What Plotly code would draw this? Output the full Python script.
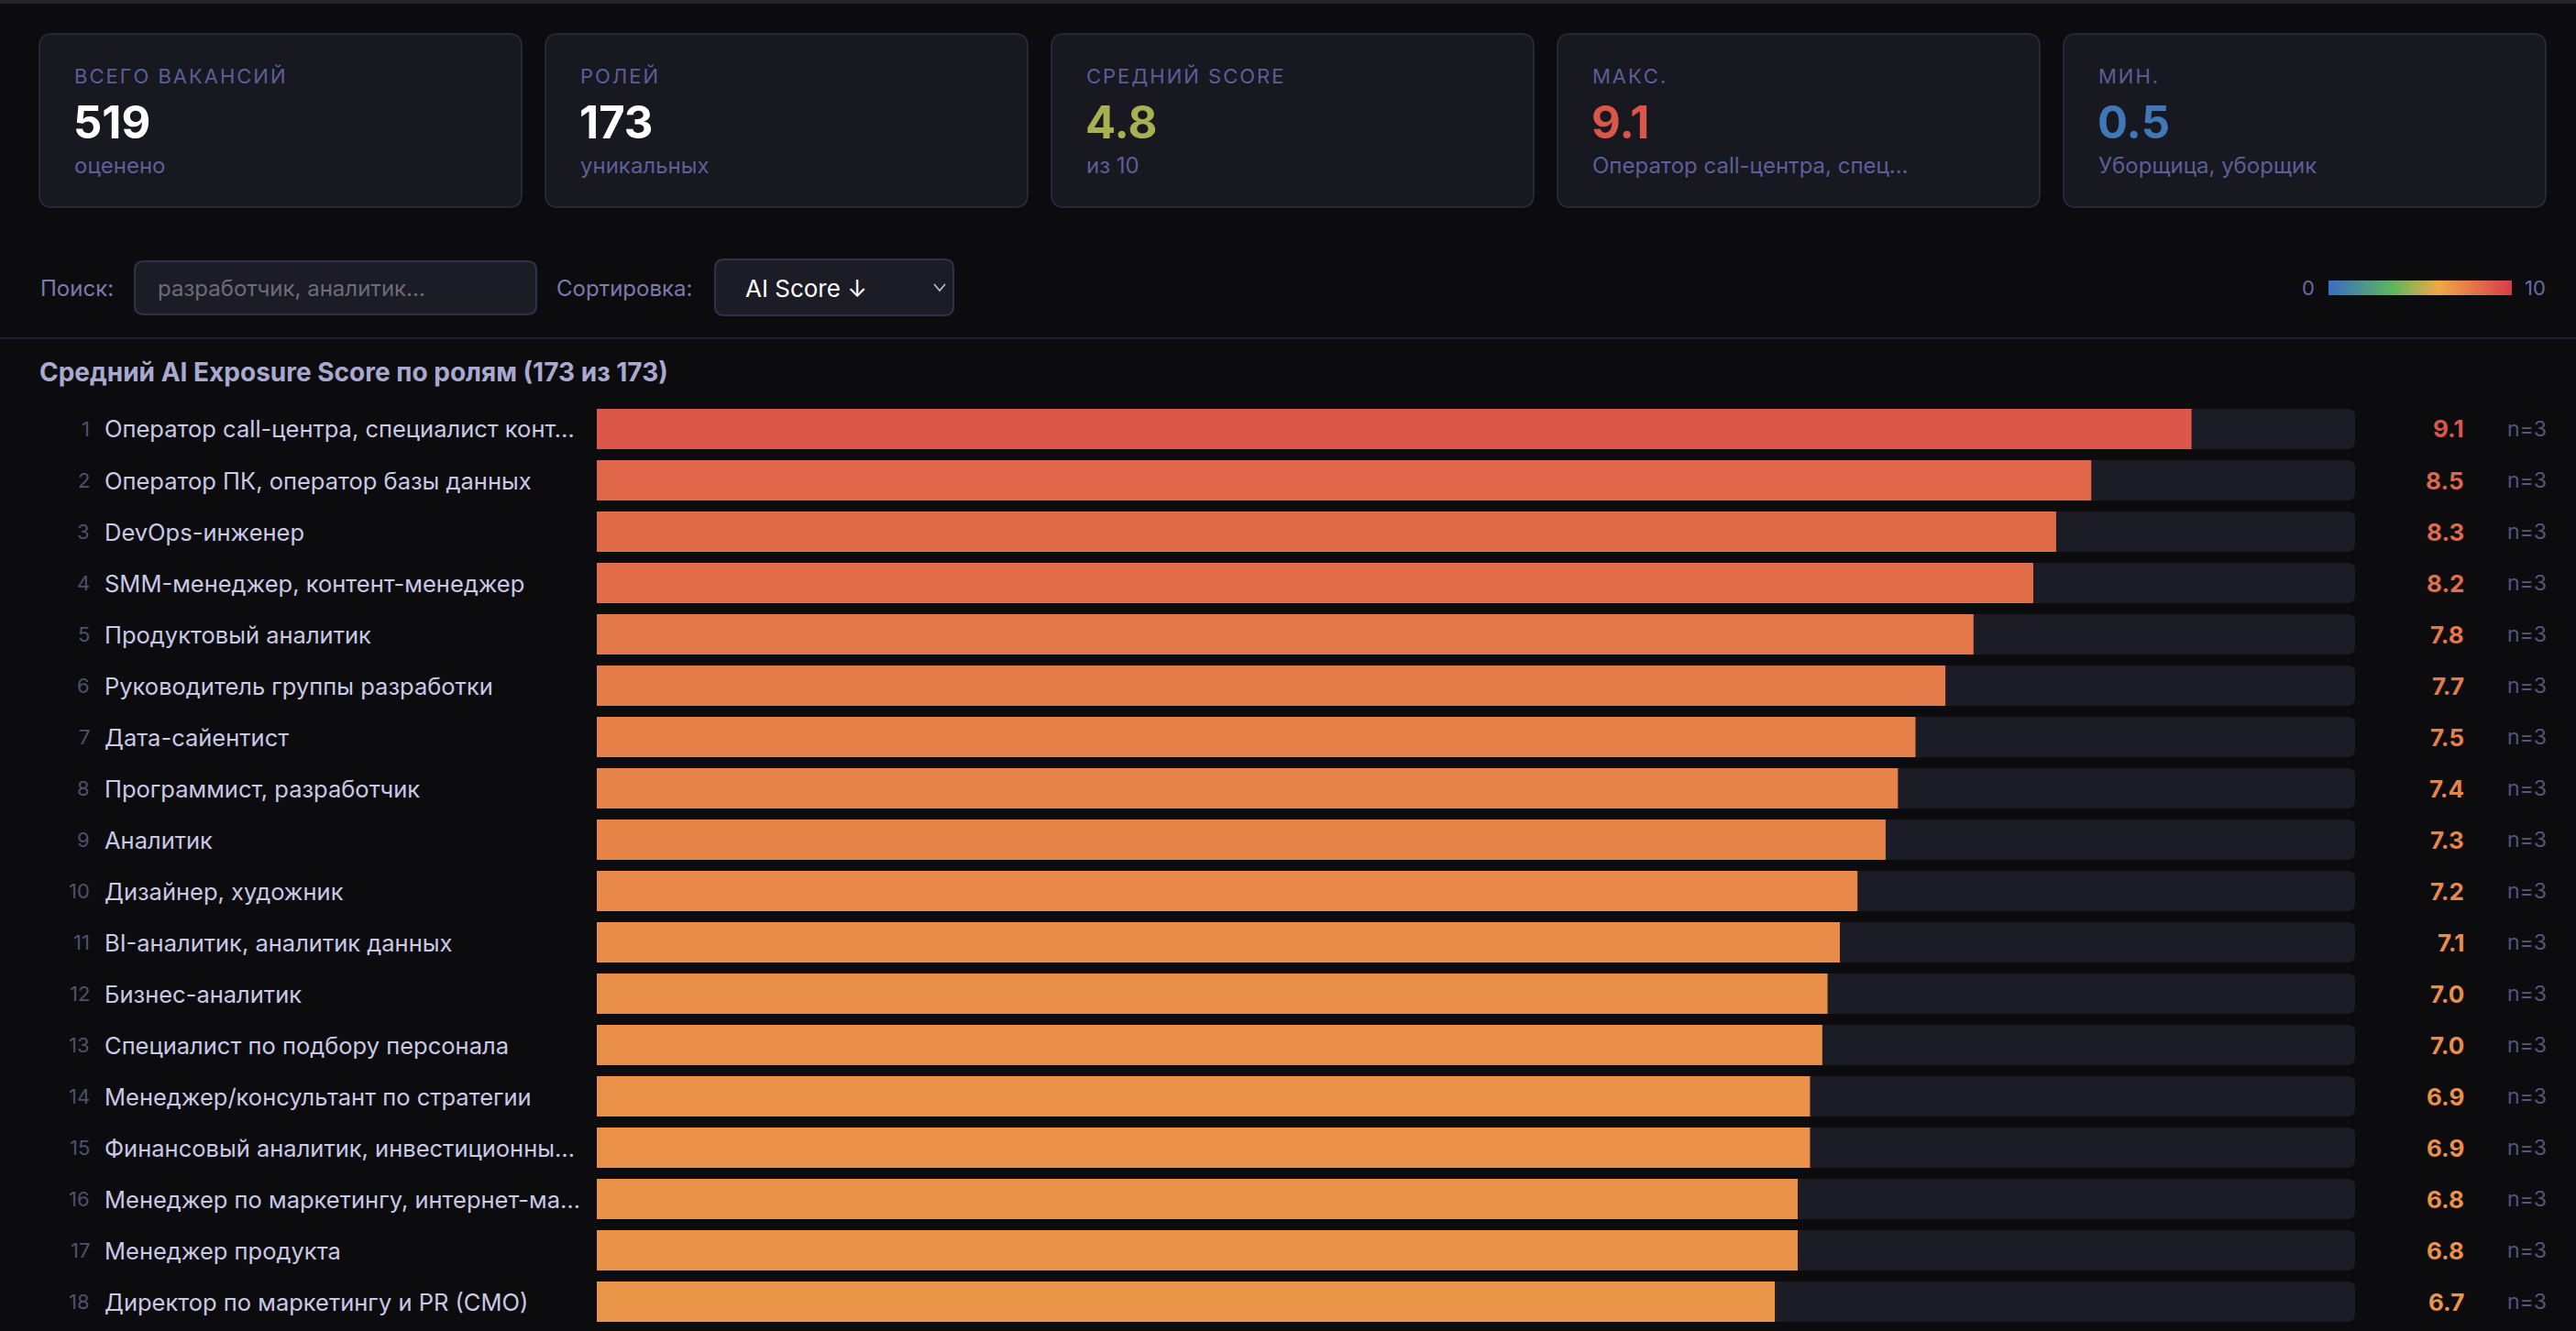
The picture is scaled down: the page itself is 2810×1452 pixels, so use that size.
import plotly.graph_objects as go
from plotly.colors import sample_colorscale

W, H = 2810, 1452

# ---------------- data ----------------
roles = [
    "Оператор call-центра, специалист конт…",
    "Оператор ПК, оператор базы данных",
    "DevOps-инженер",
    "SMM-менеджер, контент-менеджер",
    "Продуктовый аналитик",
    "Руководитель группы разработки",
    "Дата-сайентист",
    "Программист, разработчик",
    "Аналитик",
    "Дизайнер, художник",
    "BI-аналитик, аналитик данных",
    "Бизнес-аналитик",
    "Специалист по подбору персонала",
    "Менеджер/консультант по стратегии",
    "Финансовый аналитик, инвестиционны…",
    "Менеджер по маркетингу, интернет-ма…",
    "Менеджер продукта",
    "Директор по маркетингу и PR (CMO)",
]
scores = [9.07, 8.5, 8.3, 8.17, 7.83, 7.67, 7.5, 7.4, 7.33, 7.17,
          7.07, 7.0, 6.97, 6.9, 6.9, 6.83, 6.83, 6.7]
counts = [3, 3, 3, 3, 3, 3, 3, 3, 3, 3, 3, 3, 3, 3, 3, 3, 3, 3]

stat_labels = ["ВСЕГО ВАКАНСИЙ", "РОЛЕЙ", "СРЕДНИЙ SCORE", "МАКС.", "МИН."]
stat_values = [519, 173, 4.8, 9.1, 0.5]
stat_subs = ["оценено", "уникальных", "из 10", "Оператор call-центра, спец…", "Уборщица, уборщик"]
stat_is_score = [False, False, True, True, True]

score_min, score_max = 0, 10
total_roles = 173
shown_roles = 173

# ---------------- style ----------------
FONT = "Inter, 'Noto Sans', sans-serif"
BG = "#0c0c0f"
CARD_BG = "#181820"
CARD_BORDER = "#272736"
TRACK = "#1b1c25"
SCALE = [[0.0, "rgb(58,108,198)"], [0.35, "rgb(92,184,92)"],
         [0.6, "rgb(240,168,72)"], [1.0, "rgb(212,62,74)"]]


def X(px):
    return px / W


def Y(py):
    return 1 - py / H


def rrect(x0, y0, x1, y1, r):
    return (f"M {X(x0 + r)},{Y(y0)} L {X(x1 - r)},{Y(y0)} "
            f"Q {X(x1)},{Y(y0)} {X(x1)},{Y(y0 + r)} L {X(x1)},{Y(y1 - r)} "
            f"Q {X(x1)},{Y(y1)} {X(x1 - r)},{Y(y1)} L {X(x0 + r)},{Y(y1)} "
            f"Q {X(x0)},{Y(y1)} {X(x0)},{Y(y1 - r)} L {X(x0)},{Y(y0 + r)} "
            f"Q {X(x0)},{Y(y0)} {X(x0 + r)},{Y(y0)} Z")


def scolor(v):
    return sample_colorscale(SCALE, [(v - score_min) / (score_max - score_min)])[0]


def tracked(s):
    # imitate CSS letter-spacing with hair spaces
    return "\u200a".join(list(s))


fig = go.Figure()

bar_w = 44 / 56
fig.add_trace(go.Bar(
    x=[score_max] * len(roles), y=roles, orientation="h", width=bar_w,
    marker=dict(color=TRACK, cornerradius=8, line=dict(width=0)),
    hoverinfo="skip", showlegend=False))
fig.add_trace(go.Bar(
    x=scores, y=roles, orientation="h", width=bar_w,
    marker=dict(color=scores, colorscale=SCALE, cmin=score_min, cmax=score_max,
                cornerradius=8, line=dict(width=0), showscale=True,
                colorbar=dict(orientation="h", thickness=16, thicknessmode="pixels",
                              len=200, lenmode="pixels", x=X(2540), xanchor="left",
                              y=Y(314), yanchor="middle", outlinewidth=0,
                              showticklabels=False, ticks="", xpad=0, ypad=0)),
    showlegend=False))

shapes = []
annotations = []


def txt(x, y, text, size, color, anchor="left", bold=False, yref="paper"):
    annotations.append(dict(
        x=X(x), y=(Y(y) if yref == "paper" else y), xref="paper", yref=yref,
        text=(f"<b>{text}</b>" if bold else text), showarrow=False,
        xanchor=anchor, yanchor="middle",
        font=dict(family=FONT, size=size, color=color)))


# top border line
shapes.append(dict(type="rect", xref="paper", yref="paper", x0=0, x1=1,
                   y0=Y(4), y1=Y(0), fillcolor="#22222c", line=dict(width=0), layer="below"))

# stat cards
card_x = [43, 595, 1147, 1699, 2251]
for i, cx in enumerate(card_x):
    shapes.append(dict(type="path", path=rrect(cx, 37, cx + 526, 226, 14),
                       xref="paper", yref="paper", fillcolor=CARD_BG,
                       line=dict(color=CARD_BORDER, width=2), layer="below"))
    txt(cx + 36, 83, tracked(stat_labels[i]), 22, "#5e5e98")
    v = stat_values[i]
    vcol = scolor(v) if stat_is_score[i] else "#ffffff"
    vtext = f"{v:.1f}" if stat_is_score[i] else f"{v}"
    txt(cx + 35, 134, vtext, 49, vcol, bold=True)
    txt(cx + 36, 180, stat_subs[i], 24, "#5e5e98")

# controls row
txt(42, 314, "Поиск:", 24, "#7a7aac")
shapes.append(dict(type="path", path=rrect(147, 285, 585, 343, 10), xref="paper", yref="paper",
                   fillcolor="#1c1c27", line=dict(color="#30304a", width=2), layer="below"))
txt(170, 314, "разработчик, аналитик...", 24, "#6c6c78")
txt(605, 314, "Сортировка:", 24, "#7a7aac")
shapes.append(dict(type="path", path=rrect(780, 283, 1040, 344, 10), xref="paper", yref="paper",
                   fillcolor="#1c1c27", line=dict(color="#30304a", width=2), layer="below"))
txt(811, 314, "AI Score ↓", 26, "#ffffff")
shapes.append(dict(type="path", xref="paper", yref="paper",
                   path=f"M {X(1019)},{Y(310)} L {X(1025)},{Y(317)} L {X(1031)},{Y(310)}",
                   line=dict(color="#c8c8d4", width=1.5), layer="above"))

# legend numbers
txt(2527, 314, str(score_min), 22, "#6a6aa2", anchor="right")
txt(2752, 314, str(score_max), 22, "#6a6aa2")

# divider
shapes.append(dict(type="line", xref="paper", yref="paper", x0=0, x1=1, y0=Y(369), y1=Y(369),
                   line=dict(color="#222230", width=2), layer="below"))

# chart title
txt(41, 406, f"Средний AI Exposure Score по ролям ({shown_roles} из {total_roles})", 28, "#a9a9d0", bold=True)

# row labels, values
for i, (r, s, n) in enumerate(zip(roles, scores, counts)):
    txt(100, r, str(i + 1), 22, "#50506e", anchor="right", yref="y")
    txt(112, r, r, 25.5, "#c9c9e6", yref="y")
    txt(2690, r, f"{s:.1f}", 26, scolor(s), anchor="right", bold=True, yref="y")
    txt(2733, r, f"n={n}", 23, "#55557f", yref="y")

fig.update_layout(
    width=W, height=H, margin=dict(l=0, r=0, t=0, b=0, pad=0),
    paper_bgcolor=BG, plot_bgcolor="rgba(0,0,0,0)",
    barmode="overlay", showlegend=False,
    xaxis=dict(range=[score_min, score_max], domain=[X(651), X(2569)], visible=False, fixedrange=True),
    yaxis=dict(type="category", categoryorder="array", categoryarray=roles,
               range=[len(roles) - 0.5, -0.5], domain=[Y(1448), Y(440)], visible=False, fixedrange=True),
    shapes=shapes, annotations=annotations,
    font=dict(family=FONT),
)

fig.write_html("out.html", config={"displayModeBar": False})
